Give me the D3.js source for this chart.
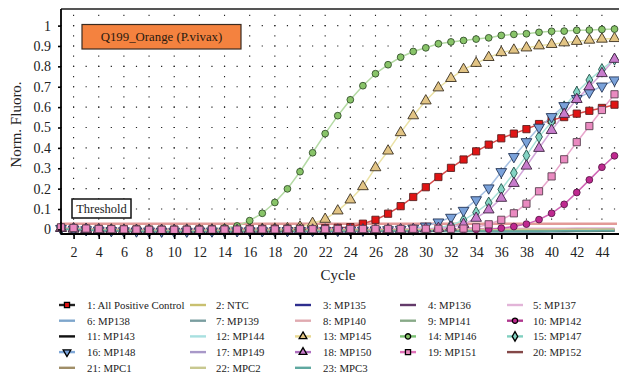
<!DOCTYPE html>
<html><head><meta charset="utf-8">
<script src="https://cdn.jsdelivr.net/npm/d3@7"></script>
<style>
body{margin:0;background:#fff;}
svg{display:block;font-family:"Liberation Serif",serif;}
svg text{font-family:"Liberation Serif",serif;}
</style></head><body>
<svg id="chart" width="619" height="375"></svg>
<script>
// ---------------- DATA ----------------
const cycles = d3.range(1, 46);
const xTicks = [2,4,6,8,10,12,14,16,18,20,22,24,26,28,30,32,34,36,38,40,42,44];
const yTicks = [0,0.1,0.2,0.3,0.4,0.5,0.6,0.7,0.8,0.9,1];
const yTickLabels = ["0","0.1","0.2","0.3","0.4","0.5","0.6","0.7","0.8","0.9","1"];
const titleText = "Q199_Orange (P.vivax)";
const thresholdLabel = "Threshold";
const thresholdValue = 0.028;

const seriesNames = ["1: All Positive Control","2: NTC","3: MP135","4: MP136","5: MP137",
  "6: MP138","7: MP139","8: MP140","9: MP141","10: MP142",
  "11: MP143","12: MP144","13: MP145","14: MP146","15: MP147",
  "16: MP148","17: MP149","18: MP150","19: MP151","20: MP152",
  "21: MPC1","22: MPC2","23: MPC3"];

const allPositiveControl = [0.008,0.005,0.003,0.002,0.001,0.000,0.000,-0.001,-0.001,-0.001,-0.001,0.000,0.000,0.001,0.001,0.002,0.002,0.003,0.003,0.004,0.005,0.006,0.008,0.011,0.028,0.047,0.077,0.114,0.159,0.207,0.257,0.302,0.343,0.383,0.416,0.447,0.470,0.492,0.517,0.537,0.551,0.568,0.582,0.596,0.612];
const ntc = [0.004,0.002,0.000,-0.002,-0.004,-0.005,-0.006,-0.007,-0.007,-0.008,-0.008,-0.008,-0.007,-0.007,-0.007,-0.006,-0.006,-0.006,-0.006,-0.005,-0.005,-0.005,-0.005,-0.004,-0.004,-0.004,-0.004,-0.004,-0.003,-0.003,-0.003,-0.003,-0.003,-0.002,-0.002,-0.002,-0.002,-0.002,-0.001,-0.001,-0.001,-0.001,0.000,0.000,0.000];
const mp135 = [0.002,0.000,-0.003,-0.005,-0.007,-0.009,-0.010,-0.011,-0.012,-0.012,-0.012,-0.012,-0.012,-0.012,-0.011,-0.011,-0.011,-0.011,-0.010,-0.010,-0.010,-0.010,-0.010,-0.010,-0.009,-0.009,-0.009,-0.009,-0.009,-0.009,-0.009,-0.009,-0.009,-0.009,-0.010,-0.010,-0.010,-0.011,-0.011,-0.010,-0.010,-0.009,-0.008,-0.008,-0.007];
const mp136 = [0.006,0.003,0.000,-0.002,-0.004,-0.005,-0.006,-0.006,-0.007,-0.007,-0.007,-0.007,-0.006,-0.006,-0.006,-0.006,-0.005,-0.005,-0.005,-0.005,-0.005,-0.004,-0.004,-0.004,-0.004,-0.004,-0.004,-0.004,-0.004,-0.004,-0.005,-0.005,-0.005,-0.006,-0.006,-0.006,-0.006,-0.006,-0.006,-0.005,-0.005,-0.005,-0.004,-0.004,-0.004];
const mp137 = [0.008,0.005,0.002,0.000,-0.002,-0.003,-0.004,-0.004,-0.005,-0.005,-0.005,-0.004,-0.004,-0.003,-0.003,-0.003,-0.002,-0.002,-0.002,-0.001,-0.001,-0.001,0.000,0.000,0.000,0.001,0.001,0.001,0.002,0.002,0.002,0.003,0.003,0.003,0.004,0.004,0.004,0.005,0.005,0.005,0.005,0.006,0.006,0.006,0.006];
const mp138 = [0.003,0.001,-0.002,-0.004,-0.006,-0.008,-0.009,-0.010,-0.010,-0.010,-0.011,-0.011,-0.010,-0.010,-0.010,-0.009,-0.009,-0.009,-0.008,-0.008,-0.008,-0.007,-0.007,-0.007,-0.007,-0.006,-0.006,-0.006,-0.006,-0.006,-0.006,-0.006,-0.006,-0.007,-0.007,-0.007,-0.007,-0.008,-0.008,-0.008,-0.007,-0.007,-0.006,-0.006,-0.006];
const mp139 = [0.001,-0.001,-0.004,-0.006,-0.008,-0.010,-0.011,-0.012,-0.013,-0.013,-0.013,-0.013,-0.013,-0.012,-0.012,-0.012,-0.012,-0.011,-0.011,-0.011,-0.011,-0.011,-0.011,-0.010,-0.010,-0.010,-0.010,-0.010,-0.010,-0.010,-0.010,-0.011,-0.011,-0.011,-0.011,-0.012,-0.012,-0.012,-0.012,-0.011,-0.011,-0.010,-0.010,-0.009,-0.009];
const mp140 = [0.007,0.004,0.001,-0.001,-0.003,-0.004,-0.005,-0.005,-0.006,-0.006,-0.006,-0.005,-0.005,-0.005,-0.004,-0.004,-0.004,-0.003,-0.003,-0.003,-0.003,-0.002,-0.002,-0.002,-0.002,-0.001,-0.001,-0.001,-0.001,0.000,0.000,0.000,0.001,0.001,0.001,0.001,0.002,0.002,0.002,0.002,0.003,0.003,0.003,0.003,0.003];
const mp141 = [0.002,0.000,-0.002,-0.004,-0.006,-0.007,-0.008,-0.009,-0.009,-0.010,-0.010,-0.010,-0.010,-0.009,-0.009,-0.009,-0.008,-0.008,-0.008,-0.008,-0.007,-0.007,-0.007,-0.007,-0.006,-0.006,-0.006,-0.006,-0.005,-0.005,-0.005,-0.005,-0.004,-0.004,-0.004,-0.003,-0.003,-0.003,-0.002,-0.002,-0.002,-0.001,-0.001,-0.001,0.000];
const mp142 = [0.006,0.003,0.000,-0.002,-0.004,-0.005,-0.006,-0.006,-0.007,-0.007,-0.007,-0.006,-0.006,-0.006,-0.005,-0.005,-0.005,-0.004,-0.004,-0.004,-0.004,-0.003,-0.003,-0.003,-0.003,-0.002,-0.002,-0.002,-0.002,-0.001,-0.001,-0.001,0.000,0.000,0.001,0.006,0.014,0.026,0.048,0.079,0.123,0.181,0.243,0.305,0.361];
const mp143 = [0.003,0.001,-0.002,-0.004,-0.006,-0.007,-0.008,-0.009,-0.009,-0.009,-0.009,-0.009,-0.009,-0.008,-0.008,-0.008,-0.008,-0.007,-0.007,-0.007,-0.007,-0.007,-0.007,-0.006,-0.006,-0.006,-0.006,-0.006,-0.006,-0.006,-0.006,-0.006,-0.007,-0.007,-0.007,-0.008,-0.008,-0.008,-0.008,-0.008,-0.007,-0.007,-0.006,-0.006,-0.005];
const mp144 = [0.004,0.002,-0.001,-0.003,-0.005,-0.006,-0.007,-0.008,-0.008,-0.008,-0.008,-0.008,-0.008,-0.007,-0.007,-0.007,-0.007,-0.006,-0.006,-0.006,-0.006,-0.005,-0.005,-0.005,-0.005,-0.005,-0.004,-0.004,-0.004,-0.004,-0.004,-0.004,-0.004,-0.004,-0.004,-0.004,-0.004,-0.004,-0.003,-0.003,-0.003,-0.003,-0.002,-0.002,-0.002];
const mp145 = [0.006,0.003,0.001,-0.001,-0.002,-0.003,-0.004,-0.004,-0.004,-0.004,-0.003,-0.003,-0.002,-0.001,0.000,0.000,0.001,0.002,0.004,0.012,0.030,0.050,0.091,0.145,0.210,0.303,0.385,0.475,0.558,0.631,0.695,0.741,0.785,0.815,0.844,0.868,0.880,0.891,0.901,0.908,0.916,0.923,0.929,0.934,0.937];
const mp146 = [0.005,0.003,0.000,-0.002,-0.003,-0.004,-0.005,-0.005,-0.005,-0.004,-0.003,-0.001,0.002,0.007,0.017,0.043,0.079,0.132,0.199,0.283,0.376,0.470,0.558,0.636,0.705,0.764,0.808,0.845,0.873,0.891,0.911,0.920,0.927,0.934,0.940,0.952,0.957,0.960,0.967,0.972,0.973,0.977,0.978,0.981,0.983];
const mp147 = [0.004,0.002,-0.001,-0.003,-0.005,-0.006,-0.007,-0.007,-0.008,-0.008,-0.008,-0.007,-0.007,-0.007,-0.006,-0.006,-0.006,-0.005,-0.005,-0.005,-0.005,-0.004,-0.004,-0.004,-0.003,-0.003,-0.003,-0.002,-0.001,0.002,0.008,0.020,0.045,0.083,0.130,0.196,0.277,0.362,0.454,0.528,0.602,0.673,0.733,0.785,0.835];
const mp148 = [0.004,0.001,-0.002,-0.004,-0.006,-0.007,-0.008,-0.008,-0.009,-0.009,-0.009,-0.008,-0.008,-0.008,-0.007,-0.007,-0.007,-0.006,-0.006,-0.006,-0.005,-0.005,-0.005,-0.004,-0.004,-0.003,-0.002,0.000,0.005,0.016,0.036,0.059,0.093,0.145,0.203,0.283,0.357,0.430,0.501,0.553,0.607,0.642,0.673,0.703,0.733];
const mp149 = [0.005,0.003,0.000,-0.002,-0.004,-0.006,-0.007,-0.007,-0.008,-0.008,-0.008,-0.008,-0.007,-0.007,-0.007,-0.006,-0.006,-0.006,-0.005,-0.005,-0.005,-0.005,-0.004,-0.004,-0.004,-0.004,-0.004,-0.003,-0.003,-0.003,-0.003,-0.003,-0.003,-0.003,-0.003,-0.003,-0.003,-0.003,-0.003,-0.002,-0.002,-0.002,-0.002,-0.001,-0.001];
const mp150 = [0.005,0.002,0.000,-0.002,-0.004,-0.005,-0.006,-0.006,-0.006,-0.006,-0.006,-0.006,-0.005,-0.005,-0.005,-0.004,-0.004,-0.004,-0.004,-0.003,-0.003,-0.003,-0.003,-0.002,-0.002,-0.002,-0.001,-0.001,0.000,0.002,0.005,0.011,0.025,0.055,0.096,0.153,0.226,0.311,0.398,0.486,0.565,0.638,0.700,0.765,0.835];
const mp151 = [0.010,0.007,0.004,0.002,0.001,0.000,-0.001,-0.002,-0.002,-0.002,-0.002,-0.002,-0.001,-0.001,-0.001,0.000,0.000,0.000,0.001,0.001,0.001,0.001,0.002,0.002,0.002,0.002,0.002,0.002,0.003,0.003,0.003,0.003,0.004,0.010,0.025,0.047,0.079,0.126,0.187,0.260,0.344,0.428,0.507,0.586,0.663];
const mp152 = [0.004,0.002,0.000,-0.002,-0.003,-0.004,-0.005,-0.006,-0.006,-0.006,-0.006,-0.006,-0.006,-0.006,-0.005,-0.005,-0.005,-0.005,-0.005,-0.004,-0.004,-0.004,-0.004,-0.004,-0.004,-0.004,-0.004,-0.004,-0.004,-0.004,-0.004,-0.004,-0.004,-0.004,-0.004,-0.005,-0.005,-0.005,-0.005,-0.005,-0.004,-0.004,-0.004,-0.003,-0.003];
const mpc1 = [0.003,0.001,-0.001,-0.003,-0.005,-0.006,-0.007,-0.008,-0.008,-0.008,-0.008,-0.008,-0.008,-0.008,-0.007,-0.007,-0.007,-0.007,-0.007,-0.006,-0.006,-0.006,-0.006,-0.006,-0.006,-0.006,-0.005,-0.005,-0.005,-0.005,-0.005,-0.005,-0.005,-0.005,-0.005,-0.006,-0.006,-0.006,-0.006,-0.006,-0.005,-0.005,-0.005,-0.005,-0.004];
const mpc2 = [0.005,0.003,0.001,-0.001,-0.003,-0.004,-0.005,-0.006,-0.006,-0.006,-0.006,-0.006,-0.006,-0.005,-0.005,-0.005,-0.005,-0.004,-0.004,-0.004,-0.004,-0.004,-0.003,-0.003,-0.003,-0.003,-0.003,-0.003,-0.002,-0.002,-0.002,-0.002,-0.002,-0.002,-0.002,-0.002,-0.002,-0.001,-0.001,-0.001,-0.001,-0.001,0.000,0.000,0.000];
const mpc3 = [0.002,0.000,-0.003,-0.005,-0.007,-0.008,-0.009,-0.010,-0.011,-0.011,-0.011,-0.011,-0.011,-0.011,-0.010,-0.010,-0.010,-0.010,-0.010,-0.009,-0.009,-0.009,-0.009,-0.009,-0.009,-0.008,-0.008,-0.008,-0.008,-0.008,-0.008,-0.008,-0.008,-0.008,-0.008,-0.008,-0.008,-0.008,-0.008,-0.008,-0.007,-0.007,-0.007,-0.006,-0.006];

const seriesValues = [allPositiveControl,ntc,mp135,mp136,mp137,mp138,mp139,mp140,mp141,mp142,
  mp143,mp144,mp145,mp146,mp147,mp148,mp149,mp150,mp151,mp152,mpc1,mpc2,mpc3];

// ---------------- STYLE ----------------
const FONT = '"Liberation Serif", serif';
const lineColors = ["#d84a4a","#c9c070","#2e2e8e","#633a6a","#e2b4d8",
  "#7ea6cc","#7a9ea0","#e0aab0","#88aa88","#cf62b4",
  "#111111","#a8e0e0","#ebe2a6","#b4daa4","#a6e0d6",
  "#a6c0e2","#a898c8","#d2a6da","#e8a6cc","#844848",
  "#a08e68","#c8c890","#5fa8a0"];
const legendLineColors = ["#222222","#c9c070","#2e2e8e","#633a6a","#e2b4d8",
  "#7ea6cc","#7a9ea0","#e0aab0","#88aa88","#b0388f",
  "#111111","#a8e0e0","#e8d890","#78c070","#80d0c0",
  "#80a8d8","#a898c8","#b070c0","#e070b8","#844848",
  "#a08e68","#c8c890","#5fa8a0"];
const markerTypes = ["square",null,null,null,null,null,null,null,null,"circle",
  null,null,"triangle","circle","diamond","triangleDown",null,"triangle","square",null,null,null,null];
const markerFills = ["#e01414",null,null,null,null,null,null,null,null,"#c02890",
  null,null,"#e2c484","#88c468","#84d4c4","#7aa2da",null,"#c87ccc","#ea8ac0",null,null,null,null];
const markerStrokes = ["#5a2020",null,null,null,null,null,null,null,null,"#5a1a48",
  null,null,"#3a3020","#34502c","#24504a","#243456",null,"#3c2440","#5a4050",null,null,null,null];

// ---------------- CHART ----------------
const svg = d3.select("#chart");
const W = 619;
const x = d3.scaleLinear().domain([1, 45]).range([61, 614.5]);
const y = d3.scaleLinear().domain([-0.0226, 1.0815]).range([234, 9]);

// grid (dotted)
const gridG = svg.append("g");
const cyc = x(2) - x(1);
const half = y(0) - y(0.05);
gridG.selectAll("line.h").data(yTicks.filter(d => d > 0)).join("line")
  .attr("x1", x(1) - 0.6).attr("x2", W).attr("y1", d => y(d)).attr("y2", d => y(d))
  .attr("stroke", "#222").attr("stroke-width", 1.1)
  .attr("stroke-dasharray", `1.2,${(cyc - 1.2).toFixed(3)}`);
gridG.selectAll("line.v").data(xTicks).join("line")
  .attr("x1", d => x(d)).attr("x2", d => x(d)).attr("y1", y(0) + 0.6).attr("y2", 9)
  .attr("stroke", "#222").attr("stroke-width", 1.1)
  .attr("stroke-dasharray", `1.2,${(half - 1.2).toFixed(3)}`);

// threshold line
svg.append("line").attr("x1", x(1)).attr("x2", W - 2)
  .attr("y1", y(thresholdValue)).attr("y2", y(thresholdValue))
  .attr("stroke", "#e39a98").attr("stroke-width", 2.6);

// series lines
const line = d3.line().x((d, i) => x(cycles[i])).y(d => y(d));
const linesG = svg.append("g");
seriesValues.forEach((vals, i) => {
  linesG.append("path").datum(vals).attr("d", line)
    .attr("fill", "none").attr("stroke", lineColors[i])
    .attr("stroke-width", markerTypes[i] ? 1.5 : 1.7).attr("stroke-linejoin", "round");
});

// markers
function symPath(type, size) {
  const t = type === "square" ? d3.symbolSquare : type === "circle" ? d3.symbolCircle :
    type === "diamond" ? d3.symbolDiamond : d3.symbolTriangle;
  return d3.symbol().type(t).size(size)();
}
const markerSize = {square: 52, circle: 36, triangle: 50, triangleDown: 50, diamond: 40};
const marksG = svg.append("g");
seriesValues.forEach((vals, i) => {
  const t = markerTypes[i];
  if (!t) return;
  marksG.append("g").selectAll("path").data(vals).join("path")
    .attr("d", symPath(t, markerSize[t]))
    .attr("transform", (d, j) => `translate(${x(cycles[j])},${y(d)})` + (t === "triangleDown" ? " rotate(180)" : ""))
    .attr("fill", markerFills[i]).attr("stroke", markerStrokes[i]).attr("stroke-width", 0.9);
});

// frame
svg.append("line").attr("x1", 61).attr("x2", W).attr("y1", 9).attr("y2", 9)
  .attr("stroke", "#555").attr("stroke-width", 2.2);

// axes
const xAxis = d3.axisBottom(x).tickValues(xTicks).tickSize(5).tickSizeOuter(0).tickPadding(8);
const gx = svg.append("g").attr("transform", "translate(0,234)").call(xAxis)
  .attr("font-family", FONT).attr("font-size", 14);
gx.select(".domain").remove();
gx.append("line").attr("x1", 61).attr("x2", W).attr("stroke", "#000").attr("stroke-width", 1.8);
gx.selectAll(".tick line").attr("stroke", "#000").attr("stroke-width", 1.6);
gx.selectAll(".tick text").attr("fill", "#222");

const yAxis = d3.axisLeft(y).tickValues(yTicks).tickFormat((d, i) => yTickLabels[i])
  .tickSize(3).tickSizeOuter(0).tickPadding(7);
const gy = svg.append("g").attr("transform", "translate(61,0)").call(yAxis)
  .attr("font-family", FONT).attr("font-size", 14);
gy.select(".domain").remove();
gy.append("line").attr("y1", 9).attr("y2", 234).attr("stroke", "#000").attr("stroke-width", 1.8);
gy.selectAll(".tick line").attr("stroke", "#000").attr("stroke-width", 1.6);
gy.selectAll(".tick text").attr("fill", "#222");

// axis titles
svg.append("text").attr("x", 338).attr("y", 280).attr("text-anchor", "middle")
  .attr("font-size", 15).attr("fill", "#222").text("Cycle");
svg.append("text").attr("transform", "translate(21,124.5) rotate(-90)").attr("text-anchor", "middle")
  .attr("font-size", 15).attr("fill", "#222").text("Norm. Fluoro.");

// title box
svg.append("rect").attr("x", 82).attr("y", 24.5).attr("width", 159).attr("height", 24.5)
  .attr("fill", "#f4823f").attr("stroke", "#3a2a20").attr("stroke-width", 1.2);
svg.append("text").attr("x", 161.5).attr("y", 41).attr("text-anchor", "middle")
  .attr("font-size", 12.8).attr("fill", "#2a1a10").text(titleText);

// threshold label box
svg.append("rect").attr("x", 72).attr("y", 199).attr("width", 59).attr("height", 19)
  .attr("fill", "#fff").attr("stroke", "#111").attr("stroke-width", 1.5);
svg.append("text").attr("x", 101.5).attr("y", 213).attr("text-anchor", "middle")
  .attr("font-size", 12.5).attr("fill", "#222").text(thresholdLabel);

// legend
const legCol = [59, 190, 295, 400, 507];
const legTextX = [87, 216, 323, 428, 533];
const legRow0 = 305, legRowH = 15.7;
const legG = svg.append("g");
seriesNames.forEach((name, i) => {
  const c = i % 5, r = Math.floor(i / 5);
  const cy = legRow0 + r * legRowH;
  const g = legG.append("g");
  g.append("line").attr("x1", legCol[c]).attr("x2", legCol[c] + 16).attr("y1", cy).attr("y2", cy)
    .attr("stroke", legendLineColors[i]).attr("stroke-width", 2.4);
  const t = markerTypes[i];
  if (t) {
    g.append("path").attr("d", symPath(t, t === "square" ? 26 : t === "circle" ? 22 : 26))
      .attr("transform", `translate(${legCol[c] + 8},${cy})` + (t === "triangleDown" ? " rotate(180)" : ""))
      .attr("fill", markerFills[i]).attr("stroke", "#000").attr("stroke-width", 1.3);
  }
  g.append("text").attr("x", legTextX[c]).attr("y", cy + 4).attr("font-size", 10.8)
    .attr("fill", "#222").text(name);
});
</script>
</body></html>
